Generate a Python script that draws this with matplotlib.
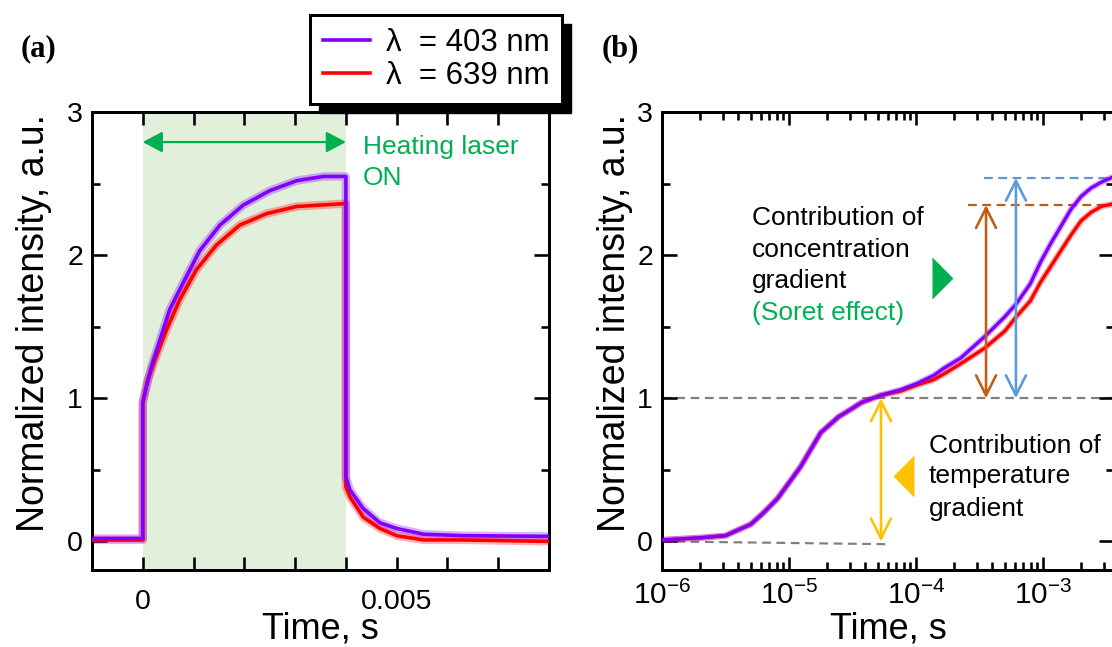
import matplotlib
matplotlib.use('Agg')
import matplotlib.pyplot as plt
from matplotlib.patches import Rectangle
from matplotlib.ticker import MultipleLocator, LogLocator, NullFormatter
import numpy as np

plt.rcParams['font.family'] = ['Liberation Sans', 'DejaVu Sans']
plt.rcParams['mathtext.fontset'] = 'custom'
plt.rcParams['mathtext.rm'] = 'Liberation Sans'
plt.rcParams['mathtext.it'] = 'Liberation Sans:italic'

# Colours
PURPLE = '#8000FF'
RED = '#FF0000'
GREEN = '#00B050'
SHADE = '#E2EFDA'
YELLOW = '#FFC000'
BROWN = '#C55A11'
BLUE = '#5B9BD5'
GRAY = '#808080'

# ---- panel (a): linear time trace (s) ----
t_a_403 = [-0.001, -0.0005, 0.0, 0.0, 0.00007, 0.00017, 0.00034, 0.00053, 0.0008, 0.00112,
           0.00152, 0.00198, 0.0025, 0.00303, 0.00356, 0.004, 0.004, 0.00408, 0.00434,
           0.00467, 0.005, 0.00553, 0.00631, 0.008]
y_a_403 = [0.02, 0.02, 0.02, 0.97, 1.08, 1.22, 1.41, 1.62, 1.81, 2.03,
           2.21, 2.35, 2.45, 2.52, 2.55, 2.55, 0.45, 0.36, 0.23,
           0.13, 0.09, 0.05, 0.04, 0.035]
t_a_639 = [-0.001, 0.0, 0.0, 0.0001, 0.00024, 0.00047, 0.00073, 0.00106, 0.00145, 0.00191,
           0.00244, 0.00303, 0.004, 0.004, 0.00408, 0.00434, 0.00467, 0.005, 0.00553,
           0.00631, 0.008]
y_a_639 = [0.01, 0.01, 0.97, 1.13, 1.27, 1.48, 1.69, 1.90, 2.07, 2.21,
           2.29, 2.34, 2.36, 0.38, 0.31, 0.17, 0.09, 0.04, 0.01,
           0.01, 0.0]
laser_on = (0.0, 0.004)
xticks_a = [0.0, 0.005]
xticklabels_a = ['0', '0.005']

# ---- panel (b): log time trace, log10(t) ----
logt_b = [-6.0, -5.7, -5.5, -5.3, -5.2, -5.09, -5.0, -4.91, -4.83, -4.75, -4.61, -4.5,
          -4.43, -4.28, -4.12, -4.0, -3.86, -3.78, -3.65, -3.46, -3.3, -3.21, -3.1,
          -3.02, -2.94, -2.86, -2.78, -2.7, -2.62, -2.54, -2.44]
y_b_403 = [0.01, 0.025, 0.04, 0.12, 0.2, 0.30, 0.41, 0.52, 0.64, 0.76, 0.87, 0.93,
           0.97, 1.02, 1.06, 1.10, 1.16, 1.21, 1.28, 1.43, 1.57, 1.66, 1.80,
           1.95, 2.08, 2.20, 2.32, 2.41, 2.47, 2.51, 2.55]
y_b_639 = [0.01, 0.025, 0.04, 0.12, 0.2, 0.30, 0.41, 0.52, 0.64, 0.76, 0.87, 0.93,
           0.97, 1.02, 1.05, 1.09, 1.13, 1.17, 1.24, 1.35, 1.47, 1.57, 1.68,
           1.81, 1.92, 2.03, 2.14, 2.24, 2.30, 2.34, 2.36]
t_b_403 = [10 ** v for v in logt_b]
t_b_639 = t_b_403

# annotation levels in panel (b)
level_T = 1.0          # temperature contribution plateau
level_403 = 2.54
level_639 = 2.35
t_arrow_T = 5.3e-5
t_arrow_639 = 3.56e-4
t_arrow_403 = 6.12e-4

W, H = 1112, 647
fig = plt.figure(figsize=(W / 100, H / 100), dpi=100)


def pt(px):
    return px * 72 / 100


def axes_px(left, top, right, bottom):
    return fig.add_axes([left / W, 1 - bottom / H, (right - left) / W, (bottom - top) / H])


def style(ax):
    for s in ax.spines.values():
        s.set_linewidth(pt(3))
    ax.tick_params(which='both', direction='in', top=True, right=True, width=pt(2.6),
                   labelsize=20.5)
    ax.tick_params(axis='y', which='major', length=pt(15), pad=pt(9))
    ax.tick_params(axis='y', which='minor', length=pt(8))
    ax.set_ylim(-0.2, 3)
    ax.yaxis.set_major_locator(MultipleLocator(1))
    ax.yaxis.set_minor_locator(MultipleLocator(0.5))
    ax.set_xlabel('Time, s', fontsize=26)
    ax.set_ylabel('Normalized intensity, a.u.', fontsize=27)


# ---------------- (a) ----------------
ax1 = axes_px(92, 112, 549, 570)
style(ax1)
ax1.set_xlim(-0.001, 0.008)
ax1.set_xticks(xticks_a)
ax1.set_xticklabels(xticklabels_a)
ax1.xaxis.set_minor_locator(MultipleLocator(0.001))
ax1.tick_params(axis='x', which='both', length=pt(13), pad=pt(19))
ax1.axvspan(*laser_on, color=SHADE, lw=0, zorder=0)

for t, y, c in [(t_a_639, y_a_639, RED), (t_a_403, y_a_403, PURPLE)]:
    ax1.plot(t, y, color=c, lw=6, alpha=0.3, solid_joinstyle='round', zorder=2)
    ax1.plot(t, y, color=c, lw=2.6, zorder=3)

ax1.annotate('', xy=(laser_on[1], 2.79), xytext=(laser_on[0], 2.79),
             arrowprops=dict(arrowstyle='<|-|>,head_length=0.6,head_width=0.32',
                             color=GREEN, lw=1.6, mutation_scale=20,
                             shrinkA=0, shrinkB=0))
ax1.text(0.00434, 2.71, 'Heating laser', color=GREEN, fontsize=19, va='baseline')
ax1.text(0.00434, 2.49, 'ON', color=GREEN, fontsize=19, va='baseline')
ax1.xaxis.set_label_coords(0.5, -0.09)
ax1.yaxis.set_label_coords(-0.088, 0.54)

# ---------------- (b) ----------------
ax2 = axes_px(662, 112, 1114, 570)
style(ax2)
ax2.set_xscale('log')
ax2.set_xlim(1e-6, 10 ** (-6 + 452 / 127))
ax2.xaxis.set_major_locator(LogLocator(base=10))
ax2.xaxis.set_minor_locator(LogLocator(base=10, subs=np.arange(2, 10)))
ax2.xaxis.set_minor_formatter(NullFormatter())
ax2.tick_params(axis='x', which='major', length=pt(13), pad=pt(11), labelsize=21.5)
ax2.tick_params(axis='x', which='minor', length=pt(8))

xmax = ax2.get_xlim()[1]
dash = dict(lw=pt(2.2), linestyle=(0, (4, 2.5)))
ax2.plot([1e-6, xmax], [level_T, level_T], color=GRAY, zorder=1, **dash)
ax2.plot([1e-6, 6.3e-5], [0.0, -0.02], color=GRAY, zorder=1, **dash)
ax2.plot([2.56e-4, xmax], [level_639, level_639], color=BROWN, zorder=1, **dash)
ax2.plot([3.43e-4, xmax], [level_403, level_403], color=BLUE, zorder=1, **dash)

for t, y, c in [(t_b_639, y_b_639, RED), (t_b_403, y_b_403, PURPLE)]:
    ax2.plot(t, y, color=c, lw=4.5, alpha=0.3, solid_joinstyle='round', zorder=2)
    ax2.plot(t, y, color=c, lw=2.4, zorder=3)

for tx, y0, y1, c in [(t_arrow_T, 0.0, level_T, YELLOW),
                      (t_arrow_639, level_T, level_639, BROWN),
                      (t_arrow_403, level_T, level_403, BLUE)]:
    ax2.annotate('', xy=(tx, y1), xytext=(tx, y0),
                 arrowprops=dict(arrowstyle='<->,head_length=0.72,head_width=0.36',
                                 color=c, lw=pt(2.6), mutation_scale=20,
                                 shrinkA=0, shrinkB=0), zorder=4)

tri_right = [(-0.5, -1), (0.5, 0), (-0.5, 1)]
tri_left = [(0.5, -1), (-0.5, 0), (0.5, 1)]
ax2.plot([1.6e-4], [1.84], marker=tri_right, ms=pt(40), color=GREEN, ls='none')
ax2.plot([8.05e-5], [0.46], marker=tri_left, ms=pt(40), color=YELLOW, ls='none')

for txt, yb, c in [('Contribution of', 2.21, 'black'), ('concentration', 1.99, 'black'),
                   ('gradient', 1.77, 'black'), ('(Soret effect)', 1.545, GREEN)]:
    ax2.text(5.12e-6, yb, txt, color=c, fontsize=19, va='baseline')
for txt, yb in [('Contribution of', 0.62), ('temperature', 0.405), ('gradient', 0.18)]:
    ax2.text(1.26e-4, yb, txt, color='black', fontsize=19, va='baseline')

ax2.xaxis.set_label_coords(0.5, -0.09)
ax2.yaxis.set_label_coords(-0.065, 0.54)

# panel letters
fig.text(21 / W, 1 - 49 / H, '(a)', fontsize=22, fontweight='bold',
         family='Liberation Serif', va='center')
fig.text(602 / W, 1 - 49 / H, '(b)', fontsize=22, fontweight='bold',
         family='Liberation Serif', va='center')

# legend with a hard black shadow
h1, = ax1.plot([], [], color=PURPLE, lw=2.6)
h2, = ax1.plot([], [], color=RED, lw=2.6)
leg = fig.legend([h1, h2], ['\u03bb  = 403 nm', '\u03bb  = 639 nm'], loc='upper left',
                 bbox_to_anchor=(310 / W, 1 - 15 / H), fontsize=22.5, frameon=True,
                 fancybox=False, framealpha=1, edgecolor='black', borderaxespad=0,
                 handlelength=1.5, handletextpad=0.5, borderpad=0.42,
                 labelspacing=0.1)
leg.get_frame().set_linewidth(pt(3))
leg.set_zorder(10)
fig.canvas.draw()
bb = leg.get_frame().get_window_extent().transformed(fig.transFigure.inverted())
fig.add_artist(Rectangle((bb.x0 + 9 / W, bb.y0 - 9 / H), bb.width, bb.height,
                         transform=fig.transFigure, color='black', zorder=9))

fig.savefig('out.png', dpi=100)
